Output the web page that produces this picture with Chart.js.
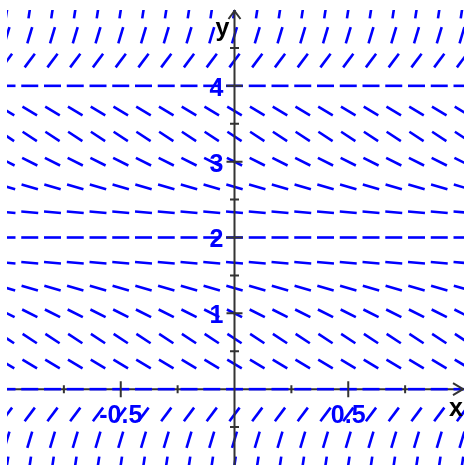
<!DOCTYPE html>
<html>
<head>
<meta charset="utf-8">
<script src="https://cdn.jsdelivr.net/npm/chart.js@4"></script>
<style>
  html, body { margin: 0; padding: 0; background: #fff; }
  #wrap { width: 464px; height: 465px; }
</style>
</head>
<body>
<div id="wrap"><canvas id="field"></canvas></div>
<script>
// grid of the slope field
const xCols = [-1, -0.9, -0.8, -0.7, -0.6, -0.5, -0.4, -0.3, -0.2, -0.1, 0,
               0.1, 0.2, 0.3, 0.4, 0.5, 0.6, 0.7, 0.8, 0.9, 1];
const yRows = [-1, -0.667, -0.333, 0, 0.333, 0.667, 1, 1.333, 1.667, 2,
               2.333, 2.667, 3, 3.333, 3.667, 4, 4.333, 4.667, 5];
// slope dy/dx read for each row (same along a row)
const rowSlopes = [20, 10, 4, 0, -1.8, -1.95, -1.5, -0.85, -0.25, 0,
                   -0.25, -0.85, -1.5, -1.95, -1.8, 0, 4, 10, 20];

// axis ticks and labels
const xTicks = [-0.75, -0.5, -0.25, 0.25, 0.5, 0.75];
const xLabelValues = [-0.5, 0.5];
const xLabelTexts = ['-0.5', '0.5'];
const yTicks = [-0.5, 0.5, 1, 1.5, 2, 2.5, 3, 3.5, 4, 4.5];
const yLabelValues = [1, 2, 3, 4];
const yLabelTexts = ['1', '2', '3', '4'];

const fieldPoints = [];
yRows.forEach((y, i) => {
    xCols.forEach(x => {
        fieldPoints.push({ x: x, y: y, m: rowSlopes[i] });
    });
});

const axisColor = '#333333';
const blue = '#0000ff';
const labelFont = 'bold 25px "Liberation Sans", Arial, sans-serif';

// slope -> rotation in degrees, using the pixel scale of both axes
function segmentRotation(ctx) {
    const chart = ctx.chart;
    const sx = chart.scales.x, sy = chart.scales.y;
    if (!ctx.raw || !sx || !sy) return 0;
    const pxPerX = sx.getPixelForValue(1) - sx.getPixelForValue(0);
    const pxPerY = sy.getPixelForValue(0) - sy.getPixelForValue(1);
    const m = ctx.raw.m * pxPerY / pxPerX;
    return -Math.atan(m) * 180 / Math.PI;
}

const axesPlugin = {
    id: 'axes',
    beforeDatasetsDraw(chart) {
        const { ctx, chartArea, scales } = chart;
        const y0 = scales.y.getPixelForValue(0);
        ctx.save();
        ctx.strokeStyle = axisColor;
        ctx.lineWidth = 2;
        ctx.beginPath();
        ctx.moveTo(chartArea.left, y0);
        ctx.lineTo(chartArea.right + 1, y0);
        ctx.stroke();
        ctx.restore();
    },
    afterDatasetsDraw(chart) {
        const { ctx, chartArea, scales } = chart;
        const x0 = scales.x.getPixelForValue(0);
        const y0 = scales.y.getPixelForValue(0);
        const right = chartArea.right + 1;
        ctx.save();
        ctx.strokeStyle = axisColor;
        ctx.lineWidth = 2;
        // y axis
        ctx.beginPath();
        ctx.moveTo(x0, chartArea.top);
        ctx.lineTo(x0, chart.height);
        ctx.stroke();
        // arrows
        ctx.beginPath();
        ctx.moveTo(x0 - 6, chartArea.top + 9);
        ctx.lineTo(x0, chartArea.top + 1);
        ctx.lineTo(x0 + 6, chartArea.top + 9);
        ctx.moveTo(right - 10, y0 - 6);
        ctx.lineTo(right, y0);
        ctx.lineTo(right - 10, y0 + 6);
        ctx.stroke();
        // ticks
        ctx.beginPath();
        xTicks.forEach(v => {
            const px = scales.x.getPixelForValue(v);
            const h = xLabelValues.includes(v) ? 8 : 4;
            ctx.moveTo(px, y0 - h);
            ctx.lineTo(px, y0 + h);
        });
        yTicks.forEach(v => {
            const py = scales.y.getPixelForValue(v);
            const w = yLabelValues.includes(v) ? 8 : 4.5;
            ctx.moveTo(x0 - w, py);
            ctx.lineTo(x0 + w, py);
        });
        ctx.stroke();

        // tick labels
        ctx.font = labelFont;
        ctx.fillStyle = blue;
        ctx.textAlign = 'center';
        ctx.textBaseline = 'alphabetic';
        xLabelValues.forEach((v, i) => {
            ctx.fillText(xLabelTexts[i], scales.x.getPixelForValue(v), y0 + 34);
        });
        ctx.textAlign = 'right';
        ctx.textBaseline = 'middle';
        yLabelValues.forEach((v, i) => {
            ctx.fillText(yLabelTexts[i], x0 - 11, scales.y.getPixelForValue(v) + 3);
        });

        // axis names
        ctx.fillStyle = '#000000';
        ctx.textAlign = 'center';
        ctx.textBaseline = 'alphabetic';
        ctx.fillText('y', x0 - 12, chartArea.top + 26);
        ctx.fillText('x', right - 7, y0 + 27);
        ctx.restore();
    }
};

new Chart(document.getElementById('field'), {
    type: 'scatter',
    data: {
        datasets: [{
            data: fieldPoints,
            showLine: false,
            pointStyle: 'line',
            pointRadius: 8.5,
            pointHoverRadius: 8.5,
            pointBorderWidth: 2.6,
            pointBorderColor: blue,
            pointBackgroundColor: blue,
            pointRotation: segmentRotation,
            clip: { left: 0, top: 0, right: 3, bottom: 0 }
        }]
    },
    options: {
        responsive: true,
        maintainAspectRatio: false,
        animation: false,
        layout: {
            autoPadding: false,
            padding: { left: 7, top: 10, right: 2, bottom: 0 }
        },
        plugins: {
            legend: { display: false },
            tooltip: { enabled: false }
        },
        events: [],
        scales: {
            x: { type: 'linear', min: -1, max: 1, display: false },
            y: { type: 'linear', min: -1, max: 5, display: false }
        }
    },
    plugins: [axesPlugin]
});
</script>
</body>
</html>
